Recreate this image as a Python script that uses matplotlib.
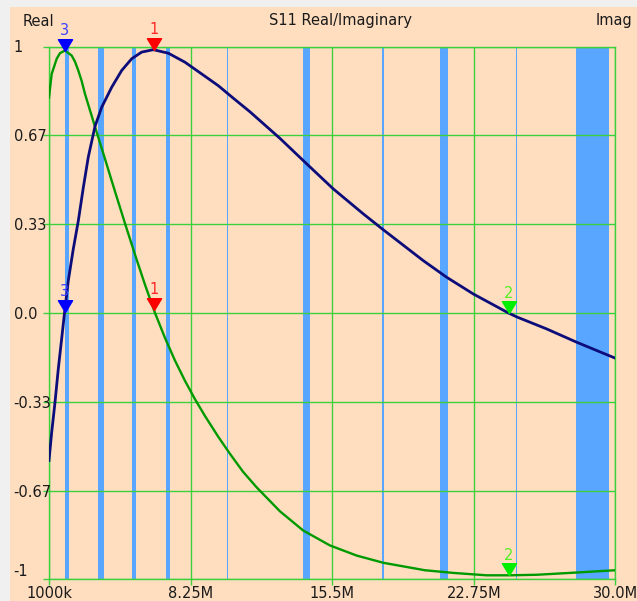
import numpy as np
import matplotlib.pyplot as plt
from matplotlib.patches import Rectangle

# frequency points in MHz
f_real = [1.0, 1.138, 1.307, 1.476, 1.65, 1.794, 1.988, 2.244, 2.5, 2.756, 3.012, 3.355,
          3.698, 4.21, 4.722, 5.234, 5.746, 6.34, 7.108, 7.964, 8.818, 9.668, 10.437,
          11.29, 12.83, 14.19, 15.55, 17.09, 18.12, 20.17, 21.36, 22.73, 24.52, 24.95,
          26.48, 28.02, 30.0]
real = [-0.554, -0.448, -0.336, -0.21, -0.096, 0.0, 0.121, 0.24, 0.345, 0.47, 0.585, 0.7,
        0.772, 0.847, 0.91, 0.954, 0.979, 0.988, 0.975, 0.941, 0.897, 0.853, 0.806,
        0.755, 0.655, 0.56, 0.466, 0.372, 0.312, 0.196, 0.134, 0.071, 0.0, -0.015,
        -0.06, -0.11, -0.17]

f_imag = [1.0, 1.138, 1.394, 1.563, 1.819, 2.162, 2.331, 2.5, 2.674, 2.843, 3.355, 3.867,
          4.379, 4.891, 5.403, 5.915, 6.428, 6.94, 7.452, 7.964, 8.476, 8.988, 9.668,
          10.268, 10.933, 11.635, 12.83, 14.02, 15.39, 16.76, 18.12, 20.25, 21.7, 23.41,
          24.6, 25.97, 27.68, 30.0]
imag = [0.809, 0.897, 0.954, 0.975, 0.985, 0.966, 0.943, 0.91, 0.87, 0.822, 0.699, 0.578,
        0.456, 0.336, 0.219, 0.106, 0.0, -0.094, -0.179, -0.255, -0.324, -0.387, -0.465,
        -0.529, -0.596, -0.655, -0.745, -0.817, -0.873, -0.911, -0.938, -0.966, -0.976, -0.985,
        -0.985, -0.983, -0.976, -0.966]

# amateur bands (MHz)
band_lo = [1.8, 3.5, 5.25, 7.0, 10.1, 14.0, 18.068, 21.0, 24.89, 28.0]
band_hi = [2.0, 3.8, 5.45, 7.2, 10.15, 14.35, 18.168, 21.45, 24.99, 29.7]

# markers
mk_freq = [6.37, 24.55, 1.8]
mk_names = ['1', '2', '3']
mk_colors = ['#FF0000', '#00EE00', '#0000FF']
mk_text = ['#FF2828', '#55EE22', '#4040FF']

x_ticks = [1, 8.25, 15.5, 22.75, 30]
x_labels = ['1000k', '8.25M', '15.5M', '22.75M', '30.0M']
y_ticks = [1, 0.667, 0.333, 0, -0.333, -0.667, -1]
y_labels = ['1', '0.67', '0.33', '0.0', '-0.33', '-0.67', '-1']

peach = '#FFDEC0'
grn = '#3CD03C'
plt.rcParams['font.family'] = 'DejaVu Sans'
plt.rcParams['font.size'] = 10.5

W, H = 637, 601
fig = plt.figure(figsize=(W / 100, H / 100), dpi=100, facecolor='#F0F0F0')
fig.add_artist(Rectangle((10 / W, 0), 1, 1 - 7 / H, transform=fig.transFigure,
                         facecolor=peach, edgecolor='none', zorder=-5))
ax = fig.add_axes([49 / W, 1 - 579.3 / H, 566.3 / W, 532.8 / H])
ax.set_facecolor(peach)

for lo, hi in zip(band_lo, band_hi):
    ax.axvspan(lo, hi, color='#58A6FF', lw=0, zorder=1)

ax.set_xlim(1, 30)
ax.set_ylim(-1, 1)
ax.set_xticks(x_ticks, x_labels)
ax.set_yticks(y_ticks, y_labels)
ax.grid(True, color=grn, lw=1.0, zorder=2)
ax.set_axisbelow(False)
for s in ax.spines.values():
    s.set_color(grn)
    s.set_linewidth(1.0)
ax.tick_params(axis='both', color=grn, length=4, width=1, labelcolor='#1a1a1a')
ax.tick_params(axis='x', pad=0.8)
ax.tick_params(axis='y', pad=21.5)
for lab in ax.get_yticklabels():
    lab.set_horizontalalignment('left')
ax.get_yticklabels()[-1].set_verticalalignment('bottom')

ax.plot(f_imag, imag, color='#009A00', lw=1.7, zorder=3)
ax.plot(f_real, real, color='#0C0C7A', lw=2.0, zorder=4)

tri = [(0, 0), (-0.6, 1), (0.6, 1), (0, 0)]
for fq, nm, c, tc in zip(mk_freq, mk_names, mk_colors, mk_text):
    for fx, fy in [(f_real, real), (f_imag, imag)]:
        yv = np.interp(fq, fx, fy)
        ax.plot([fq], [yv], marker=tri, ms=17, color=c, mec=c, clip_on=False, zorder=6)
        ax.annotate(nm, (fq, yv), xytext=(0, 9), textcoords='offset points',
                    ha='center', va='bottom', color=tc, fontsize=10.5,
                    annotation_clip=False, zorder=7)

fig.text(23 / W, 1 - 21 / H, 'Real', ha='left', va='center', color='#1a1a1a')
fig.text(340.5 / W, 1 - 21 / H, 'S11 Real/Imaginary', ha='center', va='center', color='#1a1a1a')
fig.text(596 / W, 1 - 21 / H, 'Imag', ha='left', va='center', color='#1a1a1a')

fig.savefig('out.png', dpi=100, facecolor=fig.get_facecolor())
